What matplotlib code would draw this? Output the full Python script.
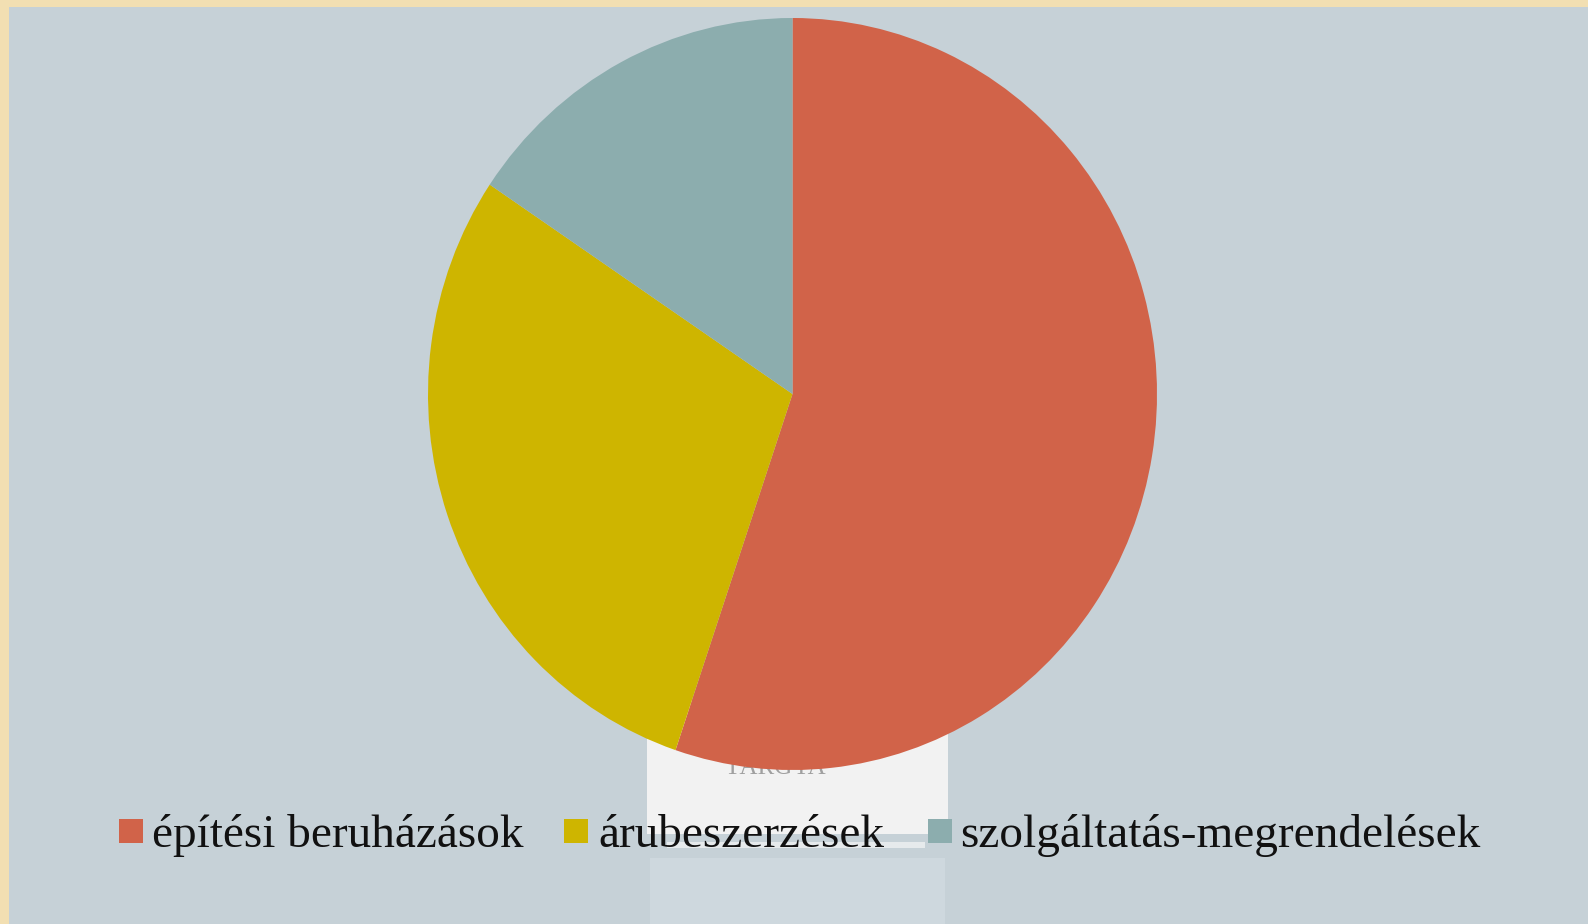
import matplotlib
matplotlib.use("Agg")
import matplotlib.pyplot as plt
from matplotlib.patches import Rectangle

categories = ["építési beruházások", "árubeszerzések", "szolgáltatás-megrendelések"]
values = [55.2, 29.2, 15.6]
colors = ["#D16349", "#CEB500", "#8CADAE"]

W, H = 1588, 924
fig = plt.figure(figsize=(W / 100, H / 100), dpi=100)
fig.patch.set_facecolor("#F2DFB2")

def fx(px):
    return px / W

def fy(py):
    return 1 - py / H

# slide panel
fig.add_artist(Rectangle((fx(9), 0), 1 - fx(9), fy(7), transform=fig.transFigure,
                         facecolor="#C6D1D7", edgecolor="none", zorder=0))
# background artifacts (white box behind pie)
fig.add_artist(Rectangle((fx(647), fy(834)), fx(948 - 647), fy(700) - fy(834),
                         transform=fig.transFigure, facecolor="#F2F2F2",
                         edgecolor="none", zorder=0.5))
fig.add_artist(Rectangle((fx(667), fy(848)), fx(925 - 667), fy(842) - fy(848),
                         transform=fig.transFigure, facecolor="#E6EAEC",
                         edgecolor="none", zorder=0.5))
fig.add_artist(Rectangle((fx(650), 0), fx(945 - 650), fy(858),
                         transform=fig.transFigure, facecolor="#CED8DE",
                         edgecolor="none", zorder=0.5))
fig.text(fx(775), fy(768), "TÁRGYA", color="#A0A0A0", fontsize=18,
         family="Liberation Serif", ha="center", va="center", zorder=0.6)

# pie
cx, cy = 792.5, 394
rx, ry = 364.5, 376
ax = fig.add_axes([fx(cx - rx), fy(cy + ry), fx(2 * rx), fy(cy - ry) - fy(cy + ry)])
ax.set_zorder(1)
ax.patch.set_alpha(0)
ax.pie(values, colors=colors, startangle=90, counterclock=False,
       wedgeprops=dict(linewidth=0))
ax.set_aspect("auto")
ax.set_xlim(-1, 1)
ax.set_ylim(-1, 1)
ax.axis("off")

# legend
sq_x = [118.5, 564, 928]
txt_x = [152, 598.5, 960]
for c, lab, sx, tx in zip(colors, categories, sq_x, txt_x):
    fig.add_artist(Rectangle((fx(sx), fy(843)), fx(24), fy(819) - fy(843),
                             transform=fig.transFigure, facecolor=c,
                             edgecolor="none", zorder=2))
    fig.text(fx(tx), fy(847), lab, color="#111111", fontsize=34,
             family="Liberation Serif", ha="left", va="baseline", zorder=2)

fig.savefig("out.png", dpi=100, facecolor=fig.get_facecolor())
